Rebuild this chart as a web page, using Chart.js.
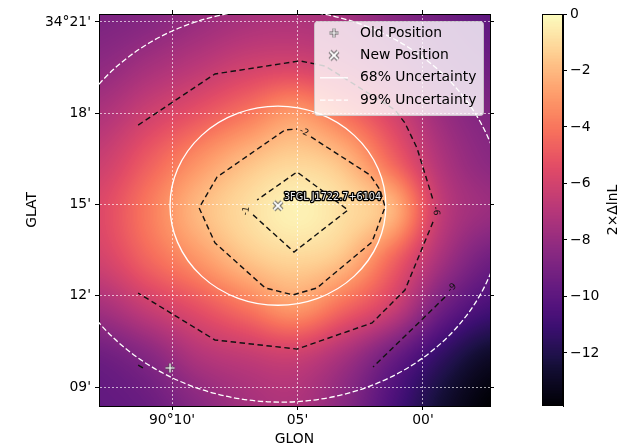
<!DOCTYPE html>
<html>
<head>
<meta charset="utf-8">
<script src="https://cdn.jsdelivr.net/npm/chart.js@4.4.1/dist/chart.umd.min.js"></script>
<style>
  html, body { margin: 0; padding: 0; background: #fff; }
  canvas { display: block; }
</style>
</head>
<body>
<canvas id="tsmap" width="625" height="446"></canvas>
<script>
// axes are in arcmin: GLON offset from 90°00', GLAT offset from 34°00'
const lonRange = [-2.67, 12.91];
const latRange = [8.38, 21.26];
const lonTicks = [10, 5, 0];
const lonTickLabels = ["90°10'", "05'", "00'"];
const latTicks = [9, 12, 15, 18, 21];
const latTickLabels = ["09'", "12'", "15'", "18'", "34°21'"];

// 2×ΔlnL map nodes (rows from top to bottom)
const gridLon = [12.9, 10.95, 9.0, 7.05, 5.1, 3.15, 1.2, -0.75, -2.7];
const gridLat = [21.25, 19.64, 18.03, 16.42, 14.81, 13.2, 11.59, 9.98, 8.37];
const tsRows = [
  [-8.9, -8.6, -8.0, -7.5, -7.3, -7.6, -8.5, -9.3, -9.9],
  [-8.3, -7.6, -6.9, -6.2, -6.0, -6.6, -7.7, -8.8, -9.4],
  [-7.3, -6.2, -5.2, -4.1, -3.0, -4.3, -6.0, -7.9, -8.8],
  [-6.3, -4.8, -3.2, -1.9, -1.25, -1.95, -4.5, -7.2, -8.4],
  [-5.6, -3.9, -2.05, -1.0, -0.35, -0.95, -2.2, -6.6, -7.9],
  [-6.0, -4.5, -3.1, -1.75, -1.2, -1.85, -4.5, -7.5, -9.3],
  [-7.6, -6.4, -5.3, -4.1, -3.0, -4.5, -6.3, -9.3, -10.8],
  [-9.4, -8.6, -7.2, -6.6, -6.3, -7.5, -9.5, -11.5, -12.9],
  [-9.8, -9.5, -8.5, -7.6, -7.3, -8.5, -10.6, -12.6, -13.88]
];
const cbRange = [-13.88, 0];
const cbTicks = [0, -2, -4, -6, -8, -10, -12];
const cbTickLabels = ["0", "\u22122", "\u22124", "\u22126", "\u22128", "\u221210", "\u221212"];

// contour paths [lon, lat], split where the level labels sit
const contourM1 = [[6.77, 14.66], [5.14, 13.44], [2.99, 14.82], [5.02, 16.07], [6.61, 15.15]];
const contourM2 = [[4.46, 17.22], [2.11, 15.97], [1.71, 15.48], [1.51, 14.92], [2.03, 13.77], [4.22, 12.26],
  [5.18, 12.03], [6.29, 12.26], [8.29, 13.74], [8.92, 14.89], [8.21, 15.90], [5.50, 17.45], [5.02, 17.48]];
const contourM6a = [[11.35, 17.61], [8.29, 19.29], [4.90, 19.72], [3.90, 19.55], [1.12, 18.11], [0.72, 17.68],
  [0.24, 16.86], [-0.40, 15.15]];
const contourM6b = [[-0.40, 14.43], [0.72, 12.19], [2.03, 11.11], [5.02, 10.25], [8.29, 10.55], [11.35, 12.09]];
const contourM9a = [[-0.88, 11.96], [1.99, 9.66]];
const contourM9b = [[11.35, 9.72], [11.16, 9.63]];
const levelLabels = ["-1", "-2", "-6", "-9"];
const levelLabelLon = [7.05, 4.74, -0.52, -1.16];
const levelLabelLat = [14.79, 17.38, 14.79, 12.26];

const oldPos = [10.08, 9.63];
const newPos = [5.78, 14.96];
const sourceName = "3FGL J1722.7+6104";
const radii68 = [4.30, 3.27];
const radii99 = [8.98, 6.45];
const tilt99 = 3;
const legendLabels = ["Old Position", "New Position", "68% Uncertainty", "99% Uncertainty"];

const font = { family: "DejaVu Sans", size: 13.9 };
const labelRotation = [-80, 25, 85, -44];

const magmaStops = [[0, "#000004"], [0.1, "#140e36"], [0.125, "#1d1147"], [0.2, "#3b0f70"], [0.25, "#51127c"],
  [0.3, "#641a80"], [0.375, "#822681"], [0.4, "#8c2981"], [0.5, "#b73779"], [0.6, "#de4968"], [0.625, "#e65164"],
  [0.7, "#f7705c"], [0.75, "#fb8861"], [0.8, "#fe9f6d"], [0.875, "#fec287"], [0.9, "#fecf92"], [1, "#fcfdbf"]];

const hexRgb = (h) => [1, 3, 5].map((i) => parseInt(h.slice(i, i + 2), 16));
const magmaLut = [];
for (let k = 0; k < 256; k++) {
  const t = k / 255;
  let s = 0;
  while (s < magmaStops.length - 2 && magmaStops[s + 1][0] < t) s++;
  const [t0, c0] = magmaStops[s], [t1, c1] = magmaStops[s + 1];
  const f = (t - t0) / (t1 - t0);
  const a = hexRgb(c0), b = hexRgb(c1);
  magmaLut.push(a.map((v, i) => Math.round(v + (b[i] - v) * f)));
}
function magma(value) {
  const t = Math.min(1, Math.max(0, (value - cbRange[0]) / (cbRange[1] - cbRange[0])));
  return magmaLut[Math.round(t * 255)];
}

const clamp = (v, lo, hi) => Math.min(hi, Math.max(lo, v));
const cubic = (p0, p1, p2, p3, t) =>
  p1 + 0.5 * t * (p2 - p0 + t * (2 * p0 - 5 * p1 + 4 * p2 - p3 + t * (3 * (p1 - p2) + p3 - p0)));
function sampleTs(u, v) {
  const nc = gridLon.length - 1, nr = gridLat.length - 1;
  const iu = Math.min(Math.floor(u), nc), iv = Math.min(Math.floor(v), nr);
  const fu = u - iu, fv = v - iv;
  const col = [];
  for (let m = -1; m <= 2; m++) {
    const r = tsRows[clamp(iv + m, 0, nr)];
    col.push(cubic(r[clamp(iu - 1, 0, nc)], r[clamp(iu, 0, nc)], r[clamp(iu + 1, 0, nc)], r[clamp(iu + 2, 0, nc)], fu));
  }
  return cubic(col[0], col[1], col[2], col[3], fv);
}

function markerCanvas(kind) {
  const c = document.createElement("canvas");
  c.width = c.height = 14;
  const g = c.getContext("2d");
  const path = () => {
    g.beginPath();
    if (kind === "plus") {
      g.moveTo(2.5, 7); g.lineTo(11.5, 7); g.moveTo(7, 2.5); g.lineTo(7, 11.5);
    } else {
      g.moveTo(3, 3); g.lineTo(11, 11); g.moveTo(11, 3); g.lineTo(3, 11);
    }
  };
  path(); g.strokeStyle = "rgba(80,80,80,0.85)"; g.lineWidth = kind === "plus" ? 3 : 4; g.stroke();
  path(); g.strokeStyle = "#fff"; g.lineWidth = kind === "plus" ? 1.2 : 1.8; g.stroke();
  return c;
}
const markPlus = markerCanvas("plus");
const markX = markerCanvas("x");

const tsImage = {
  id: "tsImage",
  beforeDraw(chart) {
    const { ctx, chartArea: a, scales } = chart;
    const x = scales.x, y = scales.y, cb = scales.cb;
    const w = Math.round(a.right - a.left), h = Math.round(a.bottom - a.top);
    const img = ctx.createImageData(w, h);
    const cx0 = x.getPixelForValue(gridLon[0]), cx1 = x.getPixelForValue(gridLon[gridLon.length - 1]);
    const cy0 = y.getPixelForValue(gridLat[0]), cy1 = y.getPixelForValue(gridLat[gridLat.length - 1]);
    for (let j = 0; j < h; j++) {
      const v = clamp((a.top + j + 0.5 - cy0) / (cy1 - cy0) * (gridLat.length - 1), 0, gridLat.length - 1);
      for (let i = 0; i < w; i++) {
        const u = clamp((a.left + i + 0.5 - cx0) / (cx1 - cx0) * (gridLon.length - 1), 0, gridLon.length - 1);
        const c = magma(sampleTs(u, v));
        const k = (j * w + i) * 4;
        img.data[k] = c[0]; img.data[k + 1] = c[1]; img.data[k + 2] = c[2]; img.data[k + 3] = 255;
      }
    }
    ctx.putImageData(img, Math.round(a.left), Math.round(a.top));

    // colour bar
    for (let py = Math.round(cb.top); py < Math.round(cb.bottom); py++) {
      const c = magma(cb.getValueForPixel(py + 0.5));
      ctx.fillStyle = `rgb(${c[0]},${c[1]},${c[2]})`;
      ctx.fillRect(cb.left - 20, py, 20, 1);
    }
  }
};

const overlays = {
  id: "overlays",
  afterDatasetsDraw(chart) {
    const { ctx, chartArea: a, scales: { x, y } } = chart;
    const px = x.getPixelForValue(newPos[0]), py = y.getPixelForValue(newPos[1]);
    const sx = Math.abs(x.getPixelForValue(1) - x.getPixelForValue(0));
    const sy = Math.abs(y.getPixelForValue(1) - y.getPixelForValue(0));
    ctx.save();
    ctx.beginPath();
    ctx.rect(a.left, a.top, a.right - a.left, a.bottom - a.top);
    ctx.clip();
    ctx.strokeStyle = "#fff";
    ctx.lineWidth = 1.3;
    ctx.beginPath();
    ctx.ellipse(px, py, radii68[0] * sx, radii68[1] * sy, 0, 0, Math.PI * 2);
    ctx.stroke();
    ctx.setLineDash([5.5, 2.5]);
    ctx.beginPath();
    ctx.ellipse(px, py, radii99[0] * sx, radii99[1] * sy, tilt99 * Math.PI / 180, 0, Math.PI * 2);
    ctx.stroke();
    ctx.setLineDash([]);

    // contour level labels
    ctx.fillStyle = "#111";
    ctx.font = "9px 'DejaVu Sans'";
    ctx.textAlign = "center";
    ctx.textBaseline = "middle";
    levelLabels.forEach((t, i) => {
      ctx.save();
      ctx.translate(x.getPixelForValue(levelLabelLon[i]), y.getPixelForValue(levelLabelLat[i]));
      ctx.rotate(labelRotation[i] * Math.PI / 180);
      ctx.fillText(t, 0, 0);
      ctx.restore();
    });

    // source name
    ctx.font = "9.7px 'DejaVu Sans'";
    ctx.textAlign = "left";
    ctx.lineJoin = "round";
    ctx.lineWidth = 2.6;
    ctx.strokeStyle = "#000";
    ctx.strokeText(sourceName, px + 6, py - 8);
    ctx.fillStyle = "#eee";
    ctx.fillText(sourceName, px + 6, py - 8);
    ctx.restore();
  },
  afterDraw(chart) {
    const { ctx, chartArea: a, scales: { cb } } = chart;
    ctx.save();
    // colour bar frame and label
    ctx.strokeStyle = "#000";
    ctx.lineWidth = 1;
    ctx.strokeRect(cb.left - 20.5, cb.top + 0.5, 20, cb.bottom - cb.top - 1);
    ctx.fillStyle = "#000";
    ctx.font = "13.9px 'DejaVu Sans'";
    ctx.textAlign = "center";
    ctx.textBaseline = "middle";
    ctx.translate(613, (cb.top + cb.bottom) / 2);
    ctx.rotate(-Math.PI / 2);
    ctx.fillText("2\u00d7\u0394lnL", 0, 0);
    ctx.restore();

    // legend
    const left = a.right - 176, top = a.top + 7, w = 169, h = 94;
    ctx.save();
    ctx.beginPath();
    ctx.roundRect(left + 0.5, top + 0.5, w, h, 3);
    ctx.fillStyle = "rgba(255,255,255,0.8)";
    ctx.fill();
    ctx.strokeStyle = "rgba(204,204,204,0.8)";
    ctx.lineWidth = 1;
    ctx.stroke();
    ctx.font = "13.9px 'DejaVu Sans'";
    ctx.textBaseline = "middle";
    ctx.textAlign = "left";
    legendLabels.forEach((label, i) => {
      const ry = top + 12 + i * 22.4;
      if (i === 0) ctx.drawImage(markPlus, left + 13, ry - 7);
      if (i === 1) ctx.drawImage(markX, left + 13, ry - 7);
      if (i >= 2) {
        ctx.strokeStyle = "#fff";
        ctx.lineWidth = 1.3;
        ctx.setLineDash(i === 3 ? [5.5, 2.5] : []);
        ctx.beginPath();
        ctx.moveTo(left + 6, ry);
        ctx.lineTo(left + 34, ry);
        ctx.stroke();
        ctx.setLineDash([]);
      }
      ctx.fillStyle = "#000";
      ctx.fillText(label, left + 46, ry);
    });
    ctx.restore();
  }
};

const toPoints = (pairs) => pairs.map(([x, y]) => ({ x, y }));
const contourStyle = {
  showLine: true, borderColor: "#111", borderWidth: 1.4, borderDash: [5.5, 3.5],
  pointRadius: 0, fill: false
};

const sideTicks = (list) => (scale) => { scale.ticks = list.map((value) => ({ value })); };
const tickGrid = { drawOnChartArea: false, tickColor: "#000", tickLength: 4 };
const frame = { color: "#000", width: 1 };

new Chart(document.getElementById("tsmap"), {
  type: "scatter",
  data: {
    datasets: [
      { label: "New Position", data: toPoints([newPos]), pointStyle: markX, pointRadius: 6 },
      { label: "Old Position", data: toPoints([oldPos]), pointStyle: markPlus, pointRadius: 6 },
      ...[contourM1, contourM2, contourM6a, contourM6b, contourM9a, contourM9b]
        .map((seg) => ({ ...contourStyle, data: toPoints(seg) }))
    ]
  },
  options: {
    responsive: false,
    animation: false,
    events: [],
    layout: { padding: 0 },
    plugins: { legend: { display: false }, tooltip: { enabled: false } },
    scales: {
      x: {
        type: "linear", position: "bottom", min: lonRange[0], max: lonRange[1], reverse: true,
        afterBuildTicks: sideTicks(lonTicks),
        afterFit: (s) => { s.height = 40; },
        ticks: { callback: (v, i) => lonTickLabels[i], color: "#000", font, padding: 2, maxRotation: 0, autoSkip: false },
        grid: { color: "rgba(255,255,255,0.65)", tickColor: "#000", tickLength: 4 },
        border: { ...frame, dash: [2, 2] },
        title: { display: true, text: "GLON", color: "#000", font: { ...font, lineHeight: 1 }, padding: { top: 0, bottom: 0 } }
      },
      y: {
        type: "linear", position: "left", min: latRange[0], max: latRange[1],
        afterBuildTicks: sideTicks(latTicks),
        afterFit: (s) => { s.width = 99; },
        ticks: { callback: (v, i) => latTickLabels[i], color: "#000", font, padding: 4, autoSkip: false },
        grid: { color: "rgba(255,255,255,0.65)", tickColor: "#000", tickLength: 4 },
        border: { ...frame, dash: [2, 2] },
        title: { display: true, text: "GLAT", color: "#000", font: { ...font, lineHeight: 1 }, padding: { top: 25, bottom: 0 } }
      },
      x2: {
        type: "linear", axis: "x", position: "top", min: lonRange[0], max: lonRange[1], reverse: true,
        afterBuildTicks: sideTicks(lonTicks),
        afterFit: (s) => { s.height = 14; },
        ticks: { display: false }, grid: tickGrid, border: frame
      },
      y2: {
        type: "linear", axis: "y", position: "right", min: latRange[0], max: latRange[1],
        afterBuildTicks: sideTicks(latTicks),
        afterFit: (s) => { s.width = 73; },
        ticks: { display: false }, grid: tickGrid, border: frame
      },
      cb: {
        type: "linear", axis: "y", position: "right", weight: 1, min: cbRange[0], max: cbRange[1],
        afterBuildTicks: sideTicks(cbTicks),
        afterFit: (s) => { s.width = 62; },
        ticks: { callback: (v, i) => cbTickLabels[i], color: "#000", font, padding: 3, autoSkip: false },
        grid: tickGrid, border: frame
      }
    }
  },
  plugins: [tsImage, overlays]
});
</script>
</body>
</html>
